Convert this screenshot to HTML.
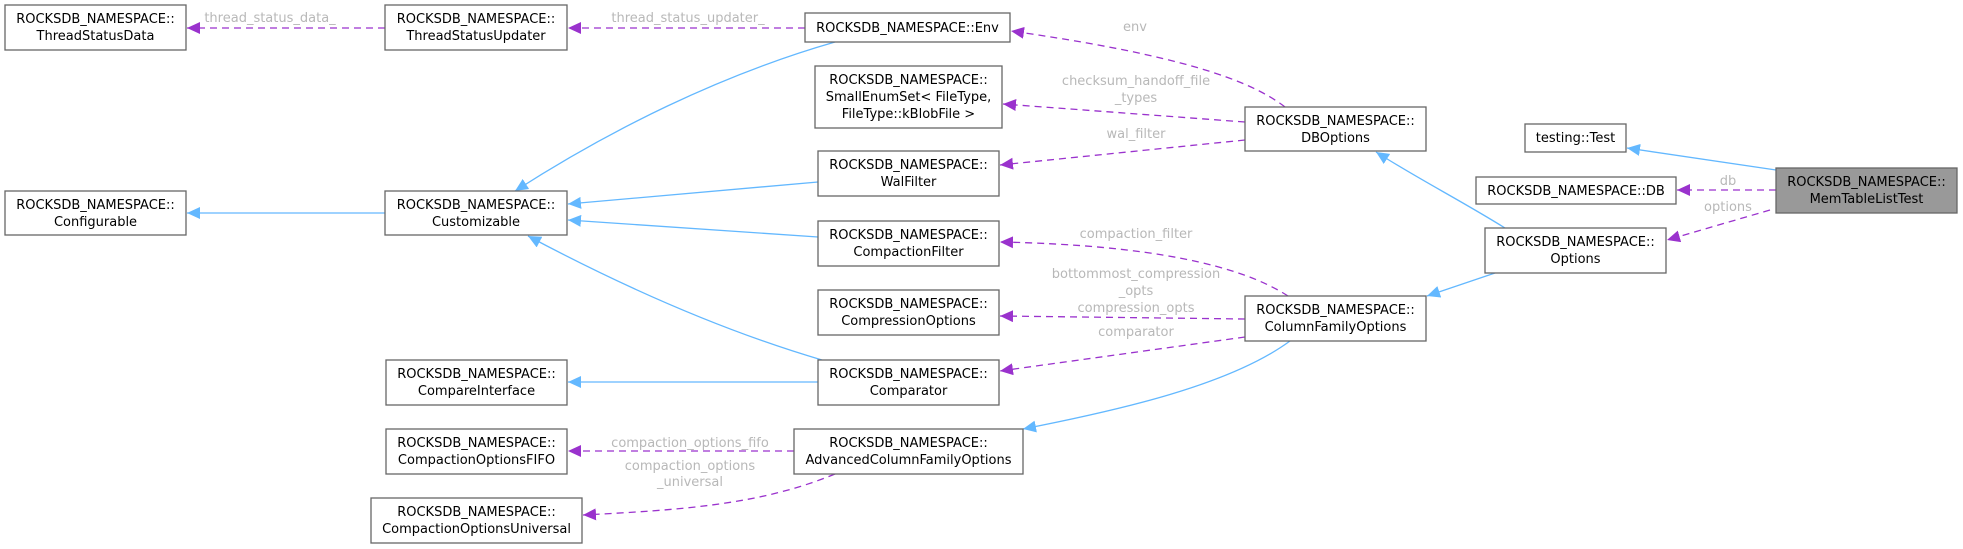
<!DOCTYPE html>
<html><head><meta charset="utf-8"><style>
html,body{margin:0;padding:0;background:#fff;}
svg{display:block;}
text{font-family:"DejaVu Sans","Liberation Sans",sans-serif;font-size:13px;}
.n{fill:#fff;stroke:#666;stroke-width:1.3;}
.t{fill:#000;text-anchor:middle;}
.l{fill:#b8b8b8;text-anchor:middle;}
.b{fill:none;stroke:#63b8ff;stroke-width:1.3;}
.p{fill:none;stroke:#9a32cd;stroke-width:1.3;stroke-dasharray:7,5;}
</style></head><body>
<svg width="1963" height="549" viewBox="0 0 1963 549" xmlns="http://www.w3.org/2000/svg">
<defs>
<marker id="ab" markerWidth="14" markerHeight="12" refX="13" refY="6" orient="auto" markerUnits="userSpaceOnUse"><path d="M0,0 L13,6 L0,12 Z" fill="#63b8ff"/></marker>
<marker id="ap" markerWidth="14" markerHeight="12" refX="13" refY="6" orient="auto" markerUnits="userSpaceOnUse"><path d="M0,0 L13,6 L0,12 Z" fill="#9a32cd"/></marker>
</defs>

<path class="p" d="M385,28 L187,28" marker-end="url(#ap)"/>
<path class="p" d="M805,28 L568,28" marker-end="url(#ap)"/>
<path class="p" d="M1285,107 C1250,80 1180,55 1011,31" marker-end="url(#ap)"/>
<path class="p" d="M1245,122 L1003,104" marker-end="url(#ap)"/>
<path class="p" d="M1245,140 L1000,165" marker-end="url(#ap)"/>
<path class="b" d="M835,42 C720,75 610,130 515,191" marker-end="url(#ab)"/>
<path class="b" d="M818,182 L568,204" marker-end="url(#ab)"/>
<path class="b" d="M818,237 L568,220" marker-end="url(#ab)"/>
<path class="b" d="M822,360 C720,330 620,285 528,236" marker-end="url(#ab)"/>
<path class="b" d="M385,213 L187,213" marker-end="url(#ab)"/>
<path class="b" d="M818,382 L568,382" marker-end="url(#ab)"/>
<path class="p" d="M1288,296 C1240,265 1150,245 1000,242" marker-end="url(#ap)"/>
<path class="p" d="M1245,319 L1000,316" marker-end="url(#ap)"/>
<path class="p" d="M1245,337 L1000,371" marker-end="url(#ap)"/>
<path class="b" d="M1290,341 C1230,385 1120,410 1023,429" marker-end="url(#ab)"/>
<path class="p" d="M794,451 L568,451" marker-end="url(#ap)"/>
<path class="p" d="M835,474 C760,505 680,510 583,515" marker-end="url(#ap)"/>
<path class="b" d="M1505,228 C1460,200 1420,180 1376,152" marker-end="url(#ab)"/>
<path class="b" d="M1495,273 L1427,296" marker-end="url(#ab)"/>
<path class="b" d="M1776,170 L1627,148" marker-end="url(#ab)"/>
<path class="p" d="M1776,190 L1677,190" marker-end="url(#ap)"/>
<path class="p" d="M1770,210 L1667,240" marker-end="url(#ap)"/>

<text class="l" x="270" y="22">thread_status_data_</text>
<text class="l" x="688" y="22">thread_status_updater_</text>
<text class="l" x="1135" y="31">env</text>
<text class="l" x="1136" y="85">checksum_handoff_file</text>
<text class="l" x="1136" y="102">_types</text>
<text class="l" x="1136" y="138">wal_filter</text>
<text class="l" x="1136" y="238">compaction_filter</text>
<text class="l" x="1136" y="278">bottommost_compression</text>
<text class="l" x="1136" y="295">_opts</text>
<text class="l" x="1136" y="312">compression_opts</text>
<text class="l" x="1136" y="336">comparator</text>
<text class="l" x="690" y="447">compaction_options_fifo</text>
<text class="l" x="690" y="470">compaction_options</text>
<text class="l" x="690" y="486">_universal</text>
<text class="l" x="1728" y="185">db</text>
<text class="l" x="1728" y="211">options</text>

<rect class="n" x="5" y="5" width="181" height="45"/>
<text class="t" x="95.5" y="23">ROCKSDB_NAMESPACE::</text><text class="t" x="95.5" y="40">ThreadStatusData</text>
<rect class="n" x="385" y="5" width="182" height="45"/>
<text class="t" x="476" y="23">ROCKSDB_NAMESPACE::</text><text class="t" x="476" y="40">ThreadStatusUpdater</text>
<rect class="n" x="5" y="191" width="181" height="44"/>
<text class="t" x="95.5" y="209">ROCKSDB_NAMESPACE::</text><text class="t" x="95.5" y="226">Configurable</text>
<rect class="n" x="385" y="191" width="182" height="44"/>
<text class="t" x="476" y="209">ROCKSDB_NAMESPACE::</text><text class="t" x="476" y="226">Customizable</text>
<rect class="n" x="805" y="13" width="205" height="29"/>
<text class="t" x="907.5" y="32">ROCKSDB_NAMESPACE::Env</text>
<rect class="n" x="815" y="66" width="187" height="62"/>
<text class="t" x="908.5" y="84">ROCKSDB_NAMESPACE::</text><text class="t" x="908.5" y="101">SmallEnumSet&lt; FileType,</text><text class="t" x="908.5" y="118">FileType::kBlobFile &gt;</text>
<rect class="n" x="818" y="151" width="181" height="45"/>
<text class="t" x="908.5" y="169">ROCKSDB_NAMESPACE::</text><text class="t" x="908.5" y="186">WalFilter</text>
<rect class="n" x="818" y="221" width="181" height="45"/>
<text class="t" x="908.5" y="239">ROCKSDB_NAMESPACE::</text><text class="t" x="908.5" y="256">CompactionFilter</text>
<rect class="n" x="818" y="290" width="181" height="45"/>
<text class="t" x="908.5" y="308">ROCKSDB_NAMESPACE::</text><text class="t" x="908.5" y="325">CompressionOptions</text>
<rect class="n" x="818" y="360" width="181" height="45"/>
<text class="t" x="908.5" y="378">ROCKSDB_NAMESPACE::</text><text class="t" x="908.5" y="395">Comparator</text>
<rect class="n" x="386" y="360" width="181" height="45"/>
<text class="t" x="476.5" y="378">ROCKSDB_NAMESPACE::</text><text class="t" x="476.5" y="395">CompareInterface</text>
<rect class="n" x="386" y="429" width="181" height="45"/>
<text class="t" x="476.5" y="447">ROCKSDB_NAMESPACE::</text><text class="t" x="476.5" y="464">CompactionOptionsFIFO</text>
<rect class="n" x="794" y="429" width="229" height="45"/>
<text class="t" x="908.5" y="447">ROCKSDB_NAMESPACE::</text><text class="t" x="908.5" y="464">AdvancedColumnFamilyOptions</text>
<rect class="n" x="371" y="498" width="211" height="45"/>
<text class="t" x="476.5" y="516">ROCKSDB_NAMESPACE::</text><text class="t" x="476.5" y="533">CompactionOptionsUniversal</text>
<rect class="n" x="1245" y="107" width="181" height="44"/>
<text class="t" x="1335.5" y="125">ROCKSDB_NAMESPACE::</text><text class="t" x="1335.5" y="142">DBOptions</text>
<rect class="n" x="1245" y="296" width="181" height="45"/>
<text class="t" x="1335.5" y="314">ROCKSDB_NAMESPACE::</text><text class="t" x="1335.5" y="331">ColumnFamilyOptions</text>
<rect class="n" x="1485" y="228" width="181" height="45"/>
<text class="t" x="1575.5" y="246">ROCKSDB_NAMESPACE::</text><text class="t" x="1575.5" y="263">Options</text>
<rect class="n" x="1525" y="124" width="101" height="28"/>
<text class="t" x="1575.5" y="142">testing::Test</text>
<rect class="n" x="1476" y="177" width="200" height="27"/>
<text class="t" x="1576" y="195">ROCKSDB_NAMESPACE::DB</text>
<rect x="1776" y="168" width="181" height="45" fill="#999" stroke="#666" stroke-width="1.3"/>
<text class="t" x="1866.5" y="186">ROCKSDB_NAMESPACE::</text><text class="t" x="1866.5" y="203">MemTableListTest</text>
</svg>
</body></html>
